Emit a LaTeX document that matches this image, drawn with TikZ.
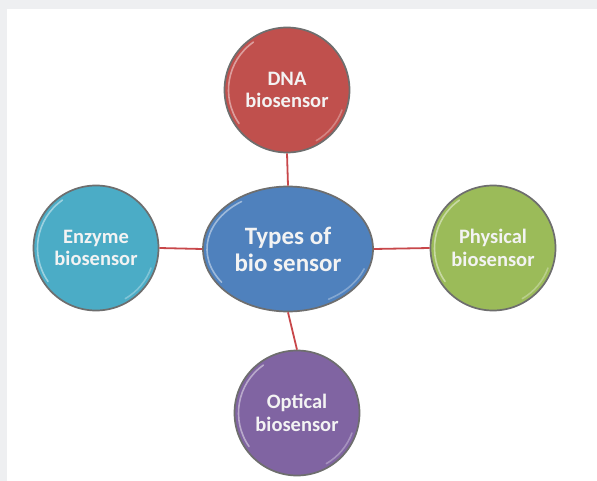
\documentclass[tikz,border=0pt]{standalone}
\usepackage{fontspec}
\setmainfont{Carlito}
\usetikzlibrary{shapes.geometric,calc}
\definecolor{dnared}{HTML}{C0504D}
\definecolor{ctrblue}{HTML}{4F81BD}
\definecolor{enzaqua}{HTML}{4BACC6}
\definecolor{phygreen}{HTML}{9BBB59}
\definecolor{optpurple}{HTML}{8064A2}
\definecolor{rimgray}{HTML}{6E6E6E}
\definecolor{bandgray}{HTML}{EEEFF1}
\definecolor{linkred}{HTML}{C8474A}
\definecolor{labelwhite}{HTML}{F3F3F3}
\tikzset{
  bubble/.style={circle, draw=rimgray, line width=1.7pt, minimum size=125pt, inner sep=0pt,
    text=labelwhite, align=center, font=\bfseries\fontsize{20.5}{22.5}\selectfont},
  hub/.style={ellipse, draw=rimgray, line width=1.7pt, minimum width=170pt, minimum height=125pt,
    inner sep=0pt, fill=ctrblue, text=labelwhite, align=center,
    font=\bfseries\fontsize{25}{27}\selectfont},
  link/.style={draw=linkred, line width=1.8pt},
  gloss/.style={draw=white, line width=1.6pt, opacity=0.45, line cap=round}
}
\begin{document}
\begin{tikzpicture}[x=1pt,y=1pt]
\useasboundingbox (0,0) rectangle (597,-481);
\fill[white] (0,0) rectangle (597,-481);
\fill[bandgray] (0,0) rectangle (597,-9);
\fill[bandgray] (0,-9) rectangle (7,-481);

\node[hub] (c) at (288,-249) {Types of\\bio sensor};
\node[bubble, fill=dnared] (d) at (287,-90) {DNA\\biosensor};
\node[bubble, fill=enzaqua] (e) at (96,-248) {Enzyme\\biosensor};
\node[bubble, fill=phygreen] (p) at (493,-248) {Physical\\biosensor};
\node[bubble, fill=optpurple] (o) at (297,-413) {Optical\\biosensor};

\draw[link] (d.south) -- (c.north);
\draw[link] (e.east) -- (c.west);
\draw[link] (c.east) -- (p.west);
\draw[link] (c.south) -- (o.north);

% glossy rims
\foreach \n in {d,e,p,o}{
  \draw[gloss] ($(\n.center)+(125:58.5)$) arc[start angle=125, end angle=215, radius=58.5];
  \draw[gloss, opacity=0.3] ($(\n.center)+(-20:58.5)$) arc[start angle=-20, end angle=-60, radius=58.5];
}
\draw[gloss] ($(c.center)+(125:81 and 58)$) arc[start angle=125, end angle=215, x radius=81, y radius=58];
\draw[gloss, opacity=0.3] ($(c.center)+(-20:81 and 58)$) arc[start angle=-20, end angle=-60, x radius=81, y radius=58];
\end{tikzpicture}
\end{document}
